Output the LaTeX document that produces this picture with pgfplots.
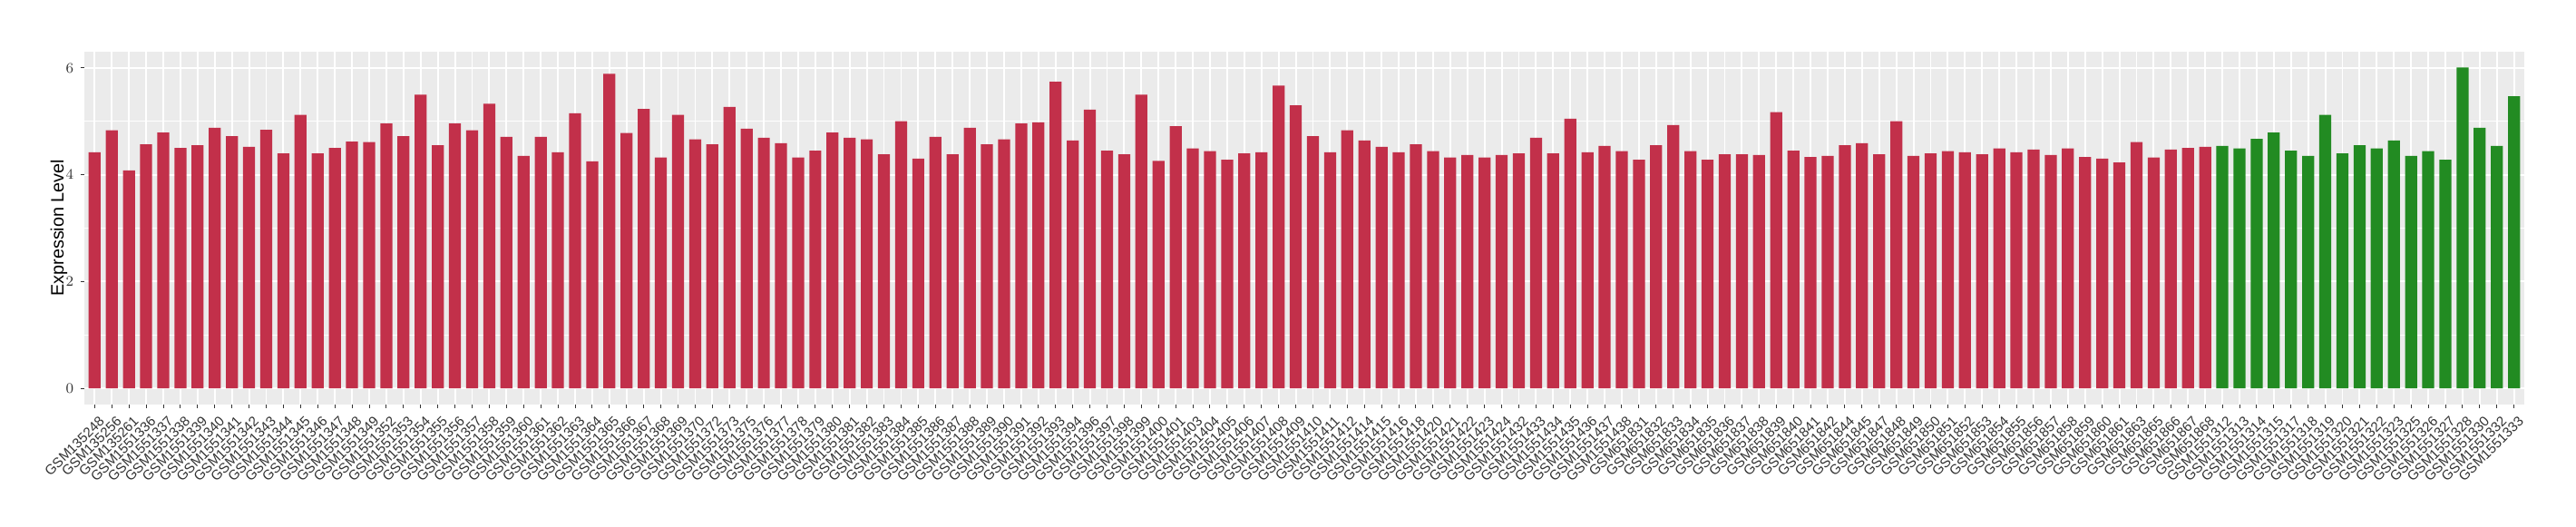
\documentclass[border=0pt]{standalone}
\usepackage{pgfplots}
\usepackage{pgfplotstable}
\pgfplotsset{compat=1.18}
\usepackage{fontspec}
\setmainfont{Liberation Sans}

\definecolor{barred}{HTML}{C2304A}
\definecolor{bargreen}{HTML}{228B22}
\definecolor{panelgray}{HTML}{EBEBEB}

% expression per sample, red group 1-124, green group 125-142
\pgfplotstableread{
idx name val
1 GSM135248 4.42
2 GSM135256 4.83
3 GSM135261 4.08
4 GSM1551336 4.57
5 GSM1551337 4.79
6 GSM1551338 4.50
7 GSM1551339 4.55
8 GSM1551340 4.88
9 GSM1551341 4.72
10 GSM1551342 4.52
11 GSM1551343 4.84
12 GSM1551344 4.40
13 GSM1551345 5.12
14 GSM1551346 4.40
15 GSM1551347 4.50
16 GSM1551348 4.62
17 GSM1551349 4.61
18 GSM1551352 4.96
19 GSM1551353 4.72
20 GSM1551354 5.50
21 GSM1551355 4.55
22 GSM1551356 4.96
23 GSM1551357 4.83
24 GSM1551358 5.33
25 GSM1551359 4.71
26 GSM1551360 4.35
27 GSM1551361 4.71
28 GSM1551362 4.42
29 GSM1551363 5.15
30 GSM1551364 4.25
31 GSM1551365 5.89
32 GSM1551366 4.78
33 GSM1551367 5.23
34 GSM1551368 4.32
35 GSM1551369 5.12
36 GSM1551370 4.66
37 GSM1551372 4.57
38 GSM1551373 5.27
39 GSM1551375 4.86
40 GSM1551376 4.69
41 GSM1551377 4.59
42 GSM1551378 4.32
43 GSM1551379 4.45
44 GSM1551380 4.79
45 GSM1551381 4.69
46 GSM1551382 4.66
47 GSM1551383 4.38
48 GSM1551384 5.00
49 GSM1551385 4.30
50 GSM1551386 4.71
51 GSM1551387 4.38
52 GSM1551388 4.88
53 GSM1551389 4.57
54 GSM1551390 4.66
55 GSM1551391 4.96
56 GSM1551392 4.98
57 GSM1551393 5.74
58 GSM1551394 4.64
59 GSM1551396 5.22
60 GSM1551397 4.45
61 GSM1551398 4.38
62 GSM1551399 5.50
63 GSM1551400 4.26
64 GSM1551401 4.91
65 GSM1551403 4.49
66 GSM1551404 4.44
67 GSM1551405 4.28
68 GSM1551406 4.40
69 GSM1551407 4.42
70 GSM1551408 5.67
71 GSM1551409 5.30
72 GSM1551410 4.72
73 GSM1551411 4.42
74 GSM1551412 4.83
75 GSM1551414 4.64
76 GSM1551415 4.52
77 GSM1551416 4.42
78 GSM1551418 4.57
79 GSM1551420 4.44
80 GSM1551421 4.32
81 GSM1551422 4.37
82 GSM1551423 4.32
83 GSM1551424 4.37
84 GSM1551432 4.40
85 GSM1551433 4.69
86 GSM1551434 4.40
87 GSM1551435 5.05
88 GSM1551436 4.42
89 GSM1551437 4.54
90 GSM1551438 4.44
91 GSM651831 4.28
92 GSM651832 4.55
93 GSM651833 4.93
94 GSM651834 4.44
95 GSM651835 4.28
96 GSM651836 4.38
97 GSM651837 4.38
98 GSM651838 4.37
99 GSM651839 5.17
100 GSM651840 4.45
101 GSM651841 4.33
102 GSM651842 4.35
103 GSM651844 4.55
104 GSM651845 4.59
105 GSM651847 4.38
106 GSM651848 5.00
107 GSM651849 4.35
108 GSM651850 4.40
109 GSM651851 4.44
110 GSM651852 4.42
111 GSM651853 4.38
112 GSM651854 4.49
113 GSM651855 4.42
114 GSM651856 4.47
115 GSM651857 4.37
116 GSM651858 4.49
117 GSM651859 4.33
118 GSM651860 4.30
119 GSM651861 4.23
120 GSM651863 4.61
121 GSM651865 4.32
122 GSM651866 4.47
123 GSM651867 4.50
124 GSM651868 4.52
125 GSM1551312 4.54
126 GSM1551313 4.49
127 GSM1551314 4.67
128 GSM1551315 4.79
129 GSM1551317 4.45
130 GSM1551318 4.35
131 GSM1551319 5.12
132 GSM1551320 4.40
133 GSM1551321 4.55
134 GSM1551322 4.49
135 GSM1551323 4.64
136 GSM1551325 4.35
137 GSM1551326 4.44
138 GSM1551327 4.28
139 GSM1551328 6.01
140 GSM1551330 4.88
141 GSM1551332 4.54
142 GSM1551333 5.47
}\exprtab

\begin{document}
\begin{tikzpicture}
\path[use as bounding box] (-46.5pt,-67.15pt) rectangle (1373.5pt,222.85pt);
\begin{axis}[
    at={(0,0)}, anchor=south west,
    scale only axis,
    width=1345pt, height=194.55pt,
    xmin=0.4, xmax=142.6,
    ymin=-0.30, ymax=6.31,
    axis background/.style={fill=panelgray},
    axis lines*=left,
    axis line style={draw=none},
    xtick={1,...,142},
    xticklabels from table={\exprtab}{name},
    ytick={0,2,4,6},
    minor ytick={1,3,5},
    grid=both,
    major grid style={white, line width=0.95pt},
    minor grid style={white, line width=0.5pt},
    tick align=outside,
    major tick length=2.2pt,
    minor tick length=0pt,
    tick style={black!80, line width=0.5pt},
    x tick label style={font=\fontsize{7.6}{8}\selectfont, text=black!80,
        inner sep=0pt, yshift=-3.5pt, xshift=2pt, rotate=45, anchor=north east},
    y tick label style={font=\fontsize{7.6}{8}\selectfont, text=black!80,
        inner sep=0pt, anchor=east, xshift=-3.5pt},
    ylabel={Expression Level},
    every axis y label/.style={at={(axis description cs:-0.0104,0.5)},
        rotate=90, anchor=center, font=\fontsize{9.9}{11}\selectfont},
]
\addplot[ybar, bar width=0.7, bar shift=0pt, fill=barred, draw=none,
    restrict x to domain=1:124] table[x=idx, y=val] {\exprtab};
\addplot[ybar, bar width=0.7, bar shift=0pt, fill=bargreen, draw=none,
    restrict x to domain=125:142] table[x=idx, y=val] {\exprtab};
\end{axis}
\end{tikzpicture}
\end{document}
